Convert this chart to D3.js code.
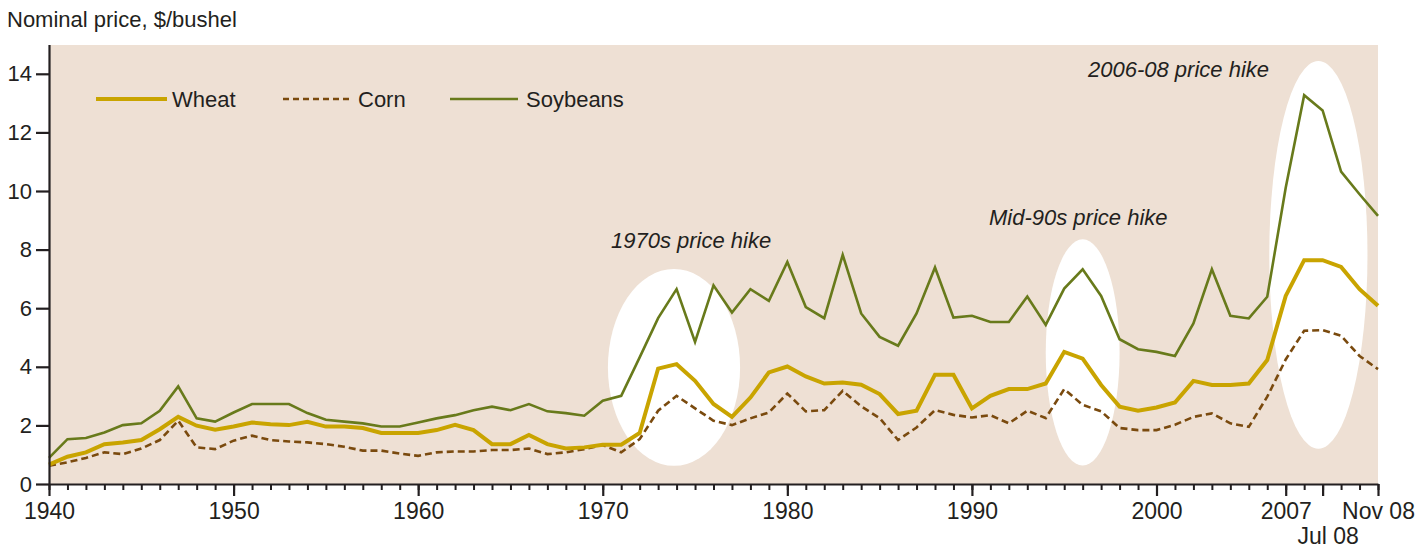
<!DOCTYPE html>
<html>
<head>
<meta charset="utf-8">
<script src="https://cdn.jsdelivr.net/npm/d3@7"></script>
<style>
  body { margin: 0; background: #fff; }
  svg text { font-family: "Liberation Sans", Arial, sans-serif; fill: #231f20; }
</style>
</head>
<body>
<div id="chart"></div>
<script>
// years 1940-2007, then 2008 monthly points
const years = d3.range(1940, 2008).map(String);
const months08 = ["Jun 08", "Jul 08", "Aug 08", "Sep 08", "Nov 08"];
const categories = years.concat(months08);

const wheat = [
  0.66, 0.93, 1.08, 1.36, 1.42, 1.50, 1.87, 2.29, 1.99, 1.85,
  1.96, 2.10, 2.04, 2.01, 2.12, 1.96, 1.96, 1.91, 1.74, 1.74,
  1.74, 1.84, 2.02, 1.84, 1.36, 1.36, 1.67, 1.36, 1.21, 1.25,
  1.34, 1.34, 1.74, 3.94, 4.09, 3.52, 2.73, 2.29, 2.95, 3.81,
  4.01, 3.67, 3.43, 3.46, 3.39, 3.07, 2.39, 2.50, 3.73, 3.73,
  2.58, 3.01, 3.24, 3.24, 3.43, 4.51, 4.28, 3.38, 2.64, 2.50,
  2.61, 2.78, 3.52, 3.38, 3.38, 3.43, 4.23, 6.42,
  7.64, 7.64, 7.41, 6.65, 6.08
];
const corn = [
  0.62, 0.74, 0.89, 1.08, 1.02, 1.21, 1.50, 2.16, 1.25, 1.19,
  1.48, 1.65, 1.50, 1.45, 1.42, 1.36, 1.27, 1.14, 1.14, 1.04,
  0.96, 1.08, 1.11, 1.11, 1.16, 1.16, 1.21, 1.02, 1.08, 1.19,
  1.33, 1.08, 1.53, 2.50, 3.01, 2.58, 2.16, 2.01, 2.24, 2.44,
  3.09, 2.48, 2.52, 3.18, 2.65, 2.25, 1.50, 1.93, 2.52, 2.36,
  2.27, 2.35, 2.07, 2.50, 2.25, 3.24, 2.70, 2.48, 1.91, 1.84,
  1.84, 2.02, 2.29, 2.41, 2.07, 1.95, 2.98, 4.25,
  5.23, 5.25, 5.06, 4.37, 3.92
];
const soybeans = [
  0.89, 1.53, 1.57, 1.76, 2.01, 2.07, 2.50, 3.33, 2.24, 2.13,
  2.44, 2.73, 2.73, 2.73, 2.42, 2.19, 2.13, 2.07, 1.96, 1.96,
  2.10, 2.24, 2.35, 2.52, 2.64, 2.52, 2.73, 2.48, 2.42, 2.33,
  2.84, 3.01, 4.32, 5.66, 6.65, 4.85, 6.78, 5.85, 6.65, 6.25,
  7.58, 6.04, 5.66, 7.82, 5.82, 5.02, 4.72, 5.82, 7.39, 5.68,
  5.74, 5.53, 5.53, 6.40, 5.43, 6.67, 7.33, 6.42, 4.94, 4.60,
  4.51, 4.37, 5.48, 7.33, 5.74, 5.65, 6.39, 10.11,
  13.27, 12.75, 10.66, 9.89, 9.15
];

const yTicks = [0, 2, 4, 6, 8, 10, 12, 14];
const xMajor = ["1940", "1950", "1960", "1970", "1980", "1990", "2000", "2007", "Jul 08", "Nov 08"];

// highlighted periods: centre category, offset in steps, centre value, half-width in steps, half-height in value
const hikes = [
  { label: "1970s price hike", at: "1974", off: -0.14, value: 3.98, rxSteps: 3.58, ryVal: 3.36 },
  { label: "Mid-90s price hike", at: "1996", off: 0, value: 4.49, rxSteps: 2.0, ryVal: 3.86 },
  { label: "2006-08 price hike", at: "2007", off: 1.77, value: 7.82, rxSteps: 2.66, ryVal: 6.62 }
];

const W = 1428, H = 549;
const mLeft = 49, mRight = 1378, mTop = 44, mBottom = 484;

const svg = d3.select("#chart").append("svg")
  .attr("width", W)
  .attr("height", H);

const x = d3.scalePoint().domain(categories).range([mLeft, mRight]);
const y = d3.scaleLinear().domain([0, 15]).range([mBottom, mTop + 0.5]);

svg.append("rect")
  .attr("x", mLeft).attr("y", mTop + 1)
  .attr("width", mRight - mLeft).attr("height", mBottom - mTop - 1)
  .attr("fill", "#eee0d4");

svg.selectAll("ellipse")
  .data(hikes)
  .enter()
  .append("ellipse")
  .attr("cx", d => x(d.at) + d.off * x.step())
  .attr("cy", d => y(d.value))
  .attr("rx", d => d.rxSteps * x.step())
  .attr("ry", d => y(0) - y(d.ryVal))
  .attr("fill", "#fff");

const textPos = [[611, 248], [989, 225], [1088, 77]];
svg.selectAll("text.hike")
  .data(hikes)
  .enter()
  .append("text")
  .attr("class", "hike")
  .attr("x", (d, i) => textPos[i][0])
  .attr("y", (d, i) => textPos[i][1])
  .attr("font-size", 22)
  .attr("font-style", "italic")
  .text(d => d.label);

const line = d3.line()
  .x((d, i) => x(categories[i]))
  .y(d => y(d));

svg.append("path").datum(corn)
  .attr("d", line).attr("fill", "none")
  .attr("stroke", "#7a4a0e").attr("stroke-width", 2.6)
  .attr("stroke-dasharray", "7,4");

svg.append("path").datum(soybeans)
  .attr("d", line).attr("fill", "none")
  .attr("stroke", "#687a1b").attr("stroke-width", 2.6);

svg.append("path").datum(wheat)
  .attr("d", line).attr("fill", "none")
  .attr("stroke", "#c9a400").attr("stroke-width", 4);

// y axis
const yAxis = svg.append("g")
  .attr("transform", `translate(${mLeft},0)`)
  .call(d3.axisLeft(y).tickValues(yTicks).tickSize(13).tickSizeOuter(0).tickPadding(4));
yAxis.select(".domain").attr("stroke", "#231f20").attr("stroke-width", 2.2);
yAxis.selectAll(".tick line").attr("stroke", "#231f20").attr("stroke-width", 2.2);
yAxis.selectAll(".tick text")
  .attr("font-size", 22)
  .attr("font-family", "Liberation Sans, Arial, sans-serif")
  .attr("fill", "#231f20");

// x axis: minor ticks every point, major ticks with labels
const xMinor = svg.append("g")
  .attr("transform", `translate(0,${mBottom})`)
  .call(d3.axisBottom(x).tickValues(categories).tickSize(6).tickSizeOuter(0).tickFormat(""));
xMinor.select(".domain").attr("stroke", "#231f20").attr("stroke-width", 2.2);
xMinor.selectAll(".tick line").attr("stroke", "#231f20").attr("stroke-width", 2);

const xAxis = svg.append("g")
  .attr("transform", `translate(0,${mBottom})`)
  .call(d3.axisBottom(x).tickValues(xMajor).tickSize(12).tickSizeOuter(0));
xAxis.select(".domain").remove();
xAxis.selectAll(".tick line").attr("stroke", "#231f20").attr("stroke-width", 2.2);
xAxis.selectAll(".tick text")
  .attr("font-size", 23)
  .attr("font-family", "Liberation Sans, Arial, sans-serif")
  .attr("fill", "#231f20")
  .attr("dy", null)
  .attr("x", d => d === "Jul 08" ? 5 : 0)
  .attr("y", d => d === "Jul 08" ? 60 : 35);

// title
svg.append("text")
  .attr("x", 7).attr("y", 27)
  .attr("font-size", 22)
  .text("Nominal price, $/bushel");

// legend
const legend = [
  { name: "Wheat", color: "#c9a400", width: 4, dash: null, x1: 96, x2: 167, tx: 172 },
  { name: "Corn", color: "#7a4a0e", width: 2.6, dash: "6,4", x1: 283, x2: 352, tx: 358 },
  { name: "Soybeans", color: "#687a1b", width: 2.6, dash: null, x1: 450, x2: 518, tx: 526 }
];
const lg = svg.selectAll("g.legend")
  .data(legend)
  .enter()
  .append("g")
  .attr("class", "legend");
lg.append("line")
  .attr("x1", d => d.x1).attr("x2", d => d.x2)
  .attr("y1", 99).attr("y2", 99)
  .attr("stroke", d => d.color)
  .attr("stroke-width", d => d.width)
  .attr("stroke-dasharray", d => d.dash);
lg.append("text")
  .attr("x", d => d.tx).attr("y", 107)
  .attr("font-size", 22)
  .text(d => d.name);
</script>
</body>
</html>
